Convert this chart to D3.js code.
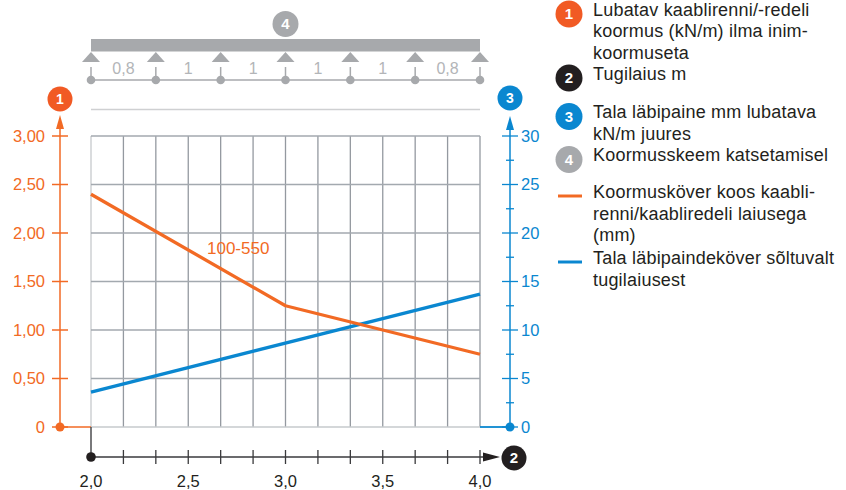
<!DOCTYPE html>
<html><head><meta charset="utf-8">
<script src="https://cdn.jsdelivr.net/npm/d3@7"></script>
<style>
html,body{margin:0;padding:0;background:#fff;}
svg{display:block;font-family:"Liberation Sans",Arial,Helvetica,sans-serif;}
</style></head>
<body><svg id="c" width="846" height="490"></svg>
<script>
// ---- data ----
const loadX = [2.0, 3.0, 4.0];
const loadY = [2.40, 1.25, 0.75];
const deflX = [2.0, 4.0];
const deflY = [3.6, 13.7];
const curveLabel = "100-550";
const xTickValues = [2.0, 2.5, 3.0, 3.5, 4.0];
const xTickLabels = ["2,0", "2,5", "3,0", "3,5", "4,0"];
const yLeftValues = [0, 0.5, 1.0, 1.5, 2.0, 2.5, 3.0];
const yLeftLabels = ["0", "0,50", "1,00", "1,50", "2,00", "2,50", "3,00"];
const yRightValues = [0, 5, 10, 15, 20, 25, 30];
const spanLabels = ["0,8", "1", "1", "1", "1", "0,8"];
const legendItems = [
  {badge: "1", lines: ["Lubatav kaablirenni/-redeli", "koormus (kN/m) ilma inim-", "koormuseta"]},
  {badge: "2", lines: ["Tugilaius m"]},
  {badge: "3", lines: ["Tala läbipaine mm lubatava", "kN/m juures"]},
  {badge: "4", lines: ["Koormusskeem katsetamisel"]},
  {swatch: "orange", lines: ["Koormusköver koos kaabli-", "renni/kaabliredeli laiusega", "(mm)"]},
  {swatch: "blue", lines: ["Tala läbipaindeköver sõltuvalt", "tugilaiusest"]}
];

// ---- style ----
const ORANGE = "#f26a24", BLUE = "#0a87d0", BLACK = "#231f20", GRAY = "#a7a9ac";
const badgeColor = {"1": "#f15a24", "2": BLACK, "3": "#0a87d0", "4": "#a7a9ac"};

const svg = d3.select("#c");
const x = d3.scaleLinear().domain([2, 4]).range([91, 480]);
const yL = d3.scaleLinear().domain([0, 3]).range([427, 136]);
const yR = d3.scaleLinear().domain([0, 30]).range([427, 136]);

function badge(g, cx, cy, r, t, fs) {
  g.append("circle").attr("cx", cx).attr("cy", cy).attr("r", r).attr("fill", badgeColor[t]);
  g.append("text").attr("x", cx).attr("y", cy).attr("dy", "0.36em").attr("text-anchor", "middle")
    .attr("fill", "#fff").attr("font-size", fs).attr("font-weight", "bold").text(t);
}

// ---- grid ----
const grid = svg.append("g");
const vTicks = d3.range(0, 13).map(i => 2 + i / 6);
grid.selectAll("line.v").data(vTicks).enter().append("line")
  .attr("x1", d => x(d)).attr("x2", d => x(d)).attr("y1", yL(3)).attr("y2", yL(0))
  .attr("stroke", (d, i) => i === 0 ? "#c6cacd" : "#9499a0").attr("stroke-width", 1.3);
grid.selectAll("line.h").data(yLeftValues).enter().append("line")
  .attr("x1", x(2)).attr("x2", x(4)).attr("y1", d => yL(d)).attr("y2", d => yL(d))
  .attr("stroke", d => d === 0 ? "#c6cacd" : "#a3a9af").attr("stroke-width", 1.3);

// ---- load scheme ----
const scheme = svg.append("g");
scheme.append("rect").attr("x", x(2)).attr("y", 39).attr("width", x(4) - x(2)).attr("height", 12.5).attr("fill", GRAY);
badge(scheme, (x(2) + x(4)) / 2, 24, 13, "4", 15);
const sp = d3.scalePoint().domain(d3.range(7)).range([x(2), x(4)]);
scheme.append("line").attr("x1", x(2)).attr("x2", x(4)).attr("y1", 80).attr("y2", 80).attr("stroke", GRAY).attr("stroke-width", 1.5);
d3.range(7).forEach(i => {
  const cx = sp(i);
  scheme.append("path").attr("d", `M${cx},52 L${cx - 9},62 L${cx + 9},62 Z`).attr("fill", GRAY);
  scheme.append("line").attr("x1", cx).attr("x2", cx).attr("y1", 67).attr("y2", 80).attr("stroke", GRAY).attr("stroke-width", 1.5);
  scheme.append("circle").attr("cx", cx).attr("cy", 80).attr("r", 4.3).attr("fill", GRAY);
});
spanLabels.forEach((t, i) => {
  scheme.append("text").attr("x", (sp(i) + sp(i + 1)) / 2).attr("y", 74).attr("text-anchor", "middle")
    .attr("fill", "#b3b5b8").attr("font-size", 16).text(t);
});
scheme.append("line").attr("x1", x(2)).attr("x2", x(4)).attr("y1", 109.5).attr("y2", 109.5).attr("stroke", "#cfd0d2").attr("stroke-width", 1.5);

// ---- left axis ----
const la = svg.append("g");
const lx = 60;
la.append("line").attr("x1", lx).attr("x2", lx).attr("y1", yL(0)).attr("y2", 125).attr("stroke", ORANGE).attr("stroke-width", 1.5);
la.append("path").attr("d", `M${lx},115 L${lx - 4},129 L${lx + 4},129 Z`).attr("fill", ORANGE);
la.append("line").attr("x1", lx).attr("x2", x(2)).attr("y1", yL(0)).attr("y2", yL(0)).attr("stroke", ORANGE).attr("stroke-width", 1.5);
la.append("circle").attr("cx", lx).attr("cy", yL(0)).attr("r", 4.5).attr("fill", ORANGE);
la.selectAll("line.t").data(yLeftValues).enter().append("line")
  .attr("x1", lx - 8).attr("x2", lx + 8).attr("y1", d => yL(d)).attr("y2", d => yL(d)).attr("stroke", ORANGE).attr("stroke-width", 1.5);
la.selectAll("text.t").data(yLeftValues).enter().append("text")
  .attr("x", 45).attr("y", d => yL(d)).attr("dy", "0.36em").attr("text-anchor", "end")
  .attr("fill", ORANGE).attr("font-size", 16.5).text((d, i) => yLeftLabels[i]);
badge(la, lx, 99, 12.5, "1", 14);

// ---- right axis ----
const ra = svg.append("g");
const rx = 510;
ra.append("line").attr("x1", rx).attr("x2", rx).attr("y1", yR(0)).attr("y2", 126).attr("stroke", BLUE).attr("stroke-width", 1.5);
ra.append("path").attr("d", `M${rx},116 L${rx - 4},130 L${rx + 4},130 Z`).attr("fill", BLUE);
ra.append("line").attr("x1", x(4)).attr("x2", rx).attr("y1", yR(0)).attr("y2", yR(0)).attr("stroke", BLUE).attr("stroke-width", 1.8);
ra.append("circle").attr("cx", rx).attr("cy", yR(0)).attr("r", 4.5).attr("fill", BLUE);
const rMinor = d3.range(2.5, 30, 5);
ra.selectAll("line.mi").data(rMinor).enter().append("line")
  .attr("x1", rx - 4).attr("x2", rx + 4).attr("y1", d => yR(d)).attr("y2", d => yR(d)).attr("stroke", BLUE).attr("stroke-width", 1.3);
ra.selectAll("line.ma").data(yRightValues).enter().append("line")
  .attr("x1", rx - 8).attr("x2", rx + 8).attr("y1", d => yR(d)).attr("y2", d => yR(d)).attr("stroke", BLUE).attr("stroke-width", 1.3);
ra.selectAll("text.t").data(yRightValues).enter().append("text")
  .attr("x", 521).attr("y", d => yR(d)).attr("dy", "0.36em").attr("text-anchor", "start")
  .attr("fill", BLUE).attr("font-size", 16.5).text(d => d);
badge(ra, rx, 98, 12.5, "3", 14);

// ---- bottom axis ----
const ba = svg.append("g");
const by = 457;
ba.append("line").attr("x1", x(2)).attr("x2", x(2)).attr("y1", yL(0)).attr("y2", by).attr("stroke", "#4d4d4f").attr("stroke-width", 1.5);
ba.append("line").attr("x1", x(2)).attr("x2", 488).attr("y1", by).attr("y2", by).attr("stroke", "#3a3a3c").attr("stroke-width", 1.5);
ba.append("path").attr("d", `M500,${by} L483,${by - 4.5} L483,${by + 4.5} Z`).attr("fill", BLACK);
ba.selectAll("line.t").data(vTicks.slice(1)).enter().append("line")
  .attr("x1", d => x(d)).attr("x2", d => x(d)).attr("y1", by - 7).attr("y2", by + 7).attr("stroke", "#3a3a3c").attr("stroke-width", 1.3);
ba.append("circle").attr("cx", x(2)).attr("cy", by).attr("r", 4.8).attr("fill", BLACK);
ba.selectAll("text.t").data(xTickValues).enter().append("text")
  .attr("x", d => x(d)).attr("y", 487).attr("text-anchor", "middle")
  .attr("fill", BLACK).attr("font-size", 16.5).text((d, i) => xTickLabels[i]);
badge(ba, 514, 458, 12.5, "2", 15);

// ---- series ----
const lineL = d3.line().x(d => x(d[0])).y(d => yL(d[1]));
const lineR = d3.line().x(d => x(d[0])).y(d => yR(d[1]));
svg.append("path").datum(deflX.map((v, i) => [v, deflY[i]])).attr("d", lineR)
  .attr("fill", "none").attr("stroke", BLUE).attr("stroke-width", 3.3);
svg.append("path").datum(loadX.map((v, i) => [v, loadY[i]])).attr("d", lineL)
  .attr("fill", "none").attr("stroke", ORANGE).attr("stroke-width", 3.3).attr("stroke-linejoin", "round");
svg.append("text").attr("x", 207).attr("y", 254).attr("fill", ORANGE).attr("font-size", 17).text(curveLabel);

// ---- legend ----
const lg = svg.append("g");
const baselines = [[15.5, 37, 58.5], [79.5], [118, 139.5], [161], [198, 219.5, 241], [264, 285.5]];
legendItems.forEach((it, k) => {
  const b = baselines[k];
  if (it.badge) badge(lg, 569, b[0] - 1.5, 13.5, it.badge, 15);
  if (it.swatch) lg.append("line").attr("x1", 558).attr("x2", 582).attr("y1", b[0] - 2).attr("y2", b[0] - 2)
    .attr("stroke", it.swatch === "orange" ? ORANGE : BLUE).attr("stroke-width", 3);
  it.lines.forEach((t, j) => {
    lg.append("text").attr("x", 593).attr("y", b[j]).attr("fill", BLACK).attr("font-size", 18)
      .attr("letter-spacing", 0.2).text(t);
  });
});
</script></body></html>
